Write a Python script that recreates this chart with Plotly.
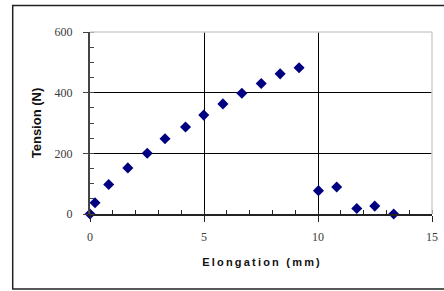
import plotly.graph_objects as go

elongation_mm = [0.0, 0.22, 0.82, 1.66, 2.51, 3.29, 4.19, 4.99, 5.83, 6.66, 7.51, 8.34, 9.17,
                 10.02, 10.82, 11.7, 12.49, 13.32]
tension_n = [0, 37, 97, 152, 200, 248, 287, 326, 363, 398, 430, 462, 482,
             77, 89, 18, 26, 0]

x_ticks = [0, 5, 10, 15]
y_ticks = [0, 200, 400, 600]

def spaced(s, sep="\u2009"):
    return sep.join(list(s))

fig = go.Figure()
fig.add_trace(go.Scatter(
    x=elongation_mm, y=tension_n, mode="markers",
    marker=dict(symbol="diamond", size=8.5, color="#000080", line=dict(width=0)),
    cliponaxis=False, showlegend=False,
))

tickfont = dict(family="Liberation Serif, Times New Roman, serif", size=12, color="#3a3a3a")
titlefont = dict(family="Liberation Sans, Arial, sans-serif", size=11, color="#111111")

fig.update_layout(
    width=444, height=291,
    margin=dict(l=90, r=12, t=32, b=77),
    paper_bgcolor="white", plot_bgcolor="white",
    xaxis=dict(
        range=[0, 15], tickvals=x_ticks, ticktext=[str(v) for v in x_ticks],
        automargin=False,
        showgrid=True, gridcolor="black", gridwidth=1,
        zeroline=False, showline=True, linecolor="#222222", linewidth=1.5,
        ticks="outside", ticklen=6, tickcolor="#222222", tickwidth=1,
        minor=dict(dtick=1, ticks="inside", ticklen=4, tickcolor="#222222", showgrid=False),
        tickfont=tickfont, ticklabelstandoff=5,
        title=dict(text="<b>" + spaced("Elongation (mm)") + "</b>", font=titlefont, standoff=15),
    ),
    yaxis=dict(
        range=[0, 600], tickvals=y_ticks, ticktext=[str(v) for v in y_ticks],
        automargin=False,
        showgrid=True, gridcolor="black", gridwidth=1,
        zeroline=False, showline=True, linecolor="#444444", linewidth=2,
        ticks="outside", ticklen=5, tickcolor="#444444", tickwidth=1,
        minor=dict(dtick=50, ticks="inside", ticklen=4, tickcolor="#444444", showgrid=False),
        tickfont=tickfont, ticklabelstandoff=8,
        title=dict(text="<b>Tension (N)</b>",
                   font=dict(family="Liberation Sans, Arial, sans-serif", size=13, color="#111111"),
                   standoff=10),
    ),
    shapes=[
        dict(type="line", xref="paper", yref="paper", x0=0, x1=1, y0=1, y1=1,
             line=dict(color="#cfcfcf", width=1.5), layer="above"),
        dict(type="line", xref="paper", yref="paper", x0=1, x1=1, y0=0, y1=1,
             line=dict(color="#cfcfcf", width=1.5), layer="above"),
        dict(type="rect", xref="paper", yref="paper", x0=-0.226, x1=1.06, y0=-0.412, y1=1.145,
             line=dict(color="#222222", width=1.5), fillcolor="rgba(0,0,0,0)", layer="above"),
    ],
)

fig.write_html("out.html", config={"displayModeBar": False},
               post_script="document.body.style.margin='0';document.body.style.padding='0';")
